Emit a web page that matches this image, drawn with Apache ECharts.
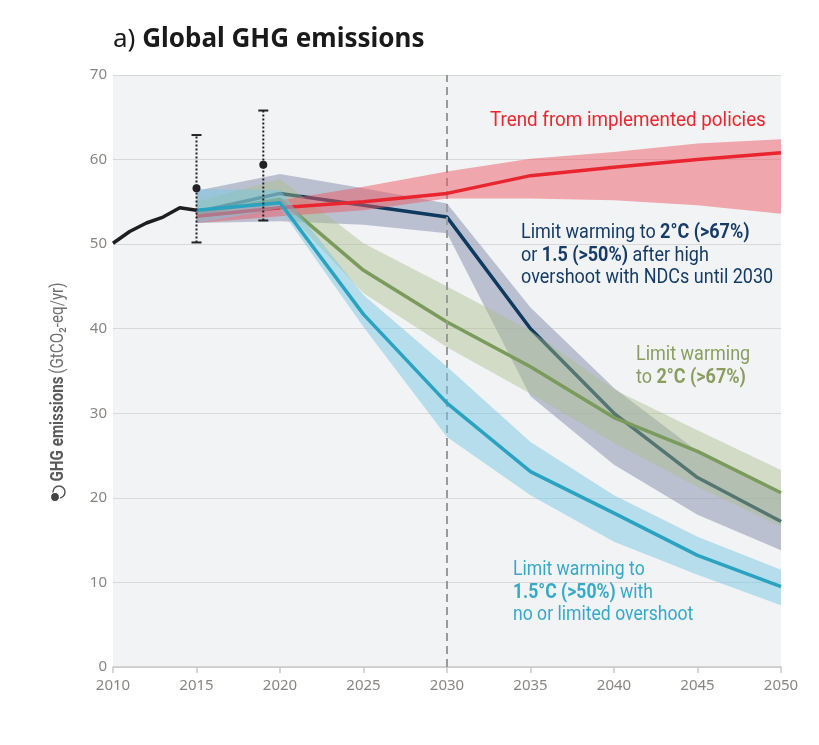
<!DOCTYPE html>
<html lang="en">
<head>
<meta charset="UTF-8">
<title>Global GHG emissions</title>
<script src="https://cdn.jsdelivr.net/npm/echarts@6/dist/echarts.min.js"></script>
<style>
    html, body { margin: 0; padding: 0; background: #fff; }
    #main { width: 819px; height: 745px; }
</style>
</head>
<body>
<div id="main"></div>
<script>
// historical emissions
var histYears = [2010, 2011, 2012, 2013, 2014, 2015];
var histValues = [50.1, 51.5, 52.5, 53.2, 54.3, 54.0];

// modelled pathways (median + range)
var pathYears = [2015, 2020, 2025, 2030, 2035, 2040, 2045, 2050];
var policyMid  = [53.3, 54.3, 55.0, 56.0, 58.1, 59.1, 60.0, 60.8];
var policyLow  = [52.5, 53.3, 54.0, 55.4, 55.4, 55.2, 54.6, 53.6];
var policyHigh = [54.0, 55.2, 56.8, 58.6, 60.1, 60.9, 61.9, 62.4];

var ndcMid  = [53.8, 56.0, 54.6, 53.2, 40.0, 30.0, 22.4, 17.2];
var ndcLow  = [52.5, 52.7, 52.3, 51.3, 32.0, 23.9, 18.0, 13.8];
var ndcHigh = [56.3, 58.3, 56.6, 54.8, 42.5, 33.0, 25.5, 20.5];

var twoMid  = [53.6, 55.3, 46.9, 40.8, 35.5, 29.5, 25.5, 20.6];
var twoLow  = [52.8, 54.6, 44.2, 37.8, 32.3, 26.5, 21.3, 16.6];
var twoHigh = [55.0, 57.7, 50.1, 45.0, 39.8, 32.8, 28.0, 23.3];

var oneFiveMid  = [54.0, 54.9, 41.7, 31.2, 23.1, 18.2, 13.2, 9.5];
var oneFiveLow  = [52.5, 54.2, 40.2, 27.2, 20.3, 14.8, 10.9, 7.3];
var oneFiveHigh = [56.5, 56.4, 44.0, 35.5, 26.6, 20.3, 15.4, 11.5];

// [year, value, low, high]
var errorBars = [[2015, 56.6, 50.2, 62.9], [2019, 59.4, 52.8, 65.8]];

var TXT = 'Roboto, sans-serif';

function pairs(xs, ys) {
    return xs.map(function (x, i) { return [x, ys[i]]; });
}

function band(name, lo, hi, color, z) {
    var pts = pathYears.map(function (y, i) { return [y, lo[i], hi[i]]; });
    return {
        type: 'custom', name: name, data: pts, z: z, silent: true, clip: true,
        encode: { x: 0, y: [1, 2] },
        renderItem: function (params, api) {
            if (params.dataIndex !== 0) return null;
            var up = pts.map(function (p) { return api.coord([p[0], p[2]]); });
            var dn = pts.map(function (p) { return api.coord([p[0], p[1]]); }).reverse();
            return { type: 'polygon', shape: { points: up.concat(dn) }, style: { fill: color } };
        }
    };
}

function line(name, xs, ys, color, z) {
    return {
        type: 'line', name: name, data: pairs(xs, ys), z: z, silent: true,
        symbol: 'none', lineStyle: { color: color, width: 3.5 }
    };
}

// condensed look: normal font squeezed horizontally
function label(x, y, lines, color, squeeze) {
    return lines.map(function (t, i) {
        return {
            type: 'text', x: x, y: y + i * 22.5, z: 100, silent: true, scaleX: squeeze,
            style: {
                text: t, fill: color, font: '20px ' + TXT, verticalAlign: 'middle',
                rich: { b: { fontWeight: 'bold', fontSize: 20, fontFamily: TXT, fill: color } }
            }
        };
    });
}

var chart = echarts.init(document.getElementById('main'));

var graphics = [
    {
        type: 'text', x: 113, y: 40, silent: true,
        style: {
            text: '{r|a) }{b|Global GHG emissions}', verticalAlign: 'middle',
            rich: {
                r: { fontSize: 26, fontFamily: 'Noto Sans', fill: '#1a1a1a' },
                b: { fontSize: 26, fontFamily: 'Noto Sans', fontWeight: 'bold', fill: '#1a1a1a' }
            }
        }
    },
    {
        type: 'text', x: 58, y: 382, rotation: Math.PI / 2, scaleX: 0.8, silent: true,
        style: {
            text: '{b|GHG emissions} {r|(GtCO₂-eq/yr)}', align: 'center', verticalAlign: 'middle',
            rich: {
                b: { fontSize: 19, fontFamily: TXT, fontWeight: 'bold', fill: '#5a5a5a' },
                r: { fontSize: 19, fontFamily: TXT, fill: '#707070' }
            }
        }
    },
    { type: 'circle', shape: { cx: 59, cy: 492, r: 6 }, style: { fill: '#fff', stroke: '#555', lineWidth: 1.5 }, silent: true },
    { type: 'circle', shape: { cx: 55, cy: 497, r: 4.5 }, style: { fill: '#444', stroke: '#fff', lineWidth: 1.2 }, silent: true }
]
    .concat(label(490, 121, ['Trend from implemented policies'], '#e8272f', 0.94))
    .concat(label(521, 233, ['Limit warming to {b|2°C (>67%)}', 'or {b|1.5 (>50%)} after high', 'overshoot with NDCs until 2030'], '#143c66', 0.9))
    .concat(label(636, 355, ['Limit warming', 'to {b|2°C (>67%)}'], '#8a9d5f', 0.9))
    .concat(label(513, 570, ['Limit warming to', '{b|1.5°C (>50%)} with', 'no or limited overshoot'], '#36a9c9', 0.88));

var option = {
    animation: false,
    backgroundColor: '#fff',
    grid: {
        left: 113, right: 38, top: 75, bottom: 78,
        show: true, backgroundColor: '#f2f3f5', borderWidth: 0
    },
    xAxis: {
        type: 'value', min: 2010, max: 2050, interval: 5,
        axisLine: { show: true, lineStyle: { color: '#c9c9c9', width: 1.5 } },
        axisTick: { show: true, length: 6, lineStyle: { color: '#c9c9c9', width: 1.5 } },
        axisLabel: {
            color: '#8a8583', fontSize: 15, fontFamily: 'Noto Sans', margin: 11,
            formatter: function (v) { return String(v); }
        },
        splitLine: { show: false }
    },
    yAxis: {
        type: 'value', min: 0, max: 70, interval: 10,
        axisLine: { show: false },
        axisTick: { show: false },
        axisLabel: { color: '#8a8583', fontSize: 15, fontFamily: 'Noto Sans', margin: 6 },
        splitLine: { show: true, lineStyle: { color: '#d8d8d8', width: 1 } }
    },
    graphic: graphics,
    series: [
        band('ndc range', ndcLow, ndcHigh, 'rgba(150,158,184,0.6)', 1),
        line('ndc', pathYears, ndcMid, '#0d3a5e', 2),
        band('2C range', twoLow, twoHigh, 'rgba(170,190,140,0.45)', 3),
        line('2C', pathYears, twoMid, '#7a9b5c', 4),
        band('policy range', policyLow, policyHigh, 'rgba(235,90,100,0.5)', 5),
        line('policy', pathYears, policyMid, '#e9252f', 6),
        band('1.5C range', oneFiveLow, oneFiveHigh, 'rgba(120,200,228,0.5)', 7),
        line('1.5C', pathYears, oneFiveMid, '#2ba3c0', 8),
        {
            type: 'line', name: 'history', data: pairs(histYears, histValues), z: 9, silent: true,
            symbol: 'none', lineStyle: { color: '#1e1e1e', width: 3.5 },
            markLine: {
                silent: true, symbol: 'none', label: { show: false },
                lineStyle: { color: '#9a9a9a', width: 2, type: [8, 5] },
                data: [{ xAxis: 2030 }]
            }
        },
        {
            type: 'custom', name: 'observed', data: errorBars, z: 10, silent: true,
            encode: { x: 0, y: [1, 2, 3] },
            renderItem: function (params, api) {
                var x = api.value(0);
                var c = api.coord([x, api.value(1)]);
                var lo = api.coord([x, api.value(2)]);
                var hi = api.coord([x, api.value(3)]);
                var ink = '#222';
                return {
                    type: 'group', children: [
                        { type: 'line', shape: { x1: c[0], y1: lo[1], x2: c[0], y2: hi[1] }, style: { stroke: ink, lineWidth: 2, lineDash: [2, 2] } },
                        { type: 'line', shape: { x1: c[0] - 5, y1: lo[1], x2: c[0] + 5, y2: lo[1] }, style: { stroke: ink, lineWidth: 2 } },
                        { type: 'line', shape: { x1: c[0] - 5, y1: hi[1], x2: c[0] + 5, y2: hi[1] }, style: { stroke: ink, lineWidth: 2 } },
                        { type: 'circle', shape: { cx: c[0], cy: c[1], r: 4 }, style: { fill: ink } }
                    ]
                };
            }
        }
    ]
};
chart.setOption(option);
</script>
</body>
</html>
